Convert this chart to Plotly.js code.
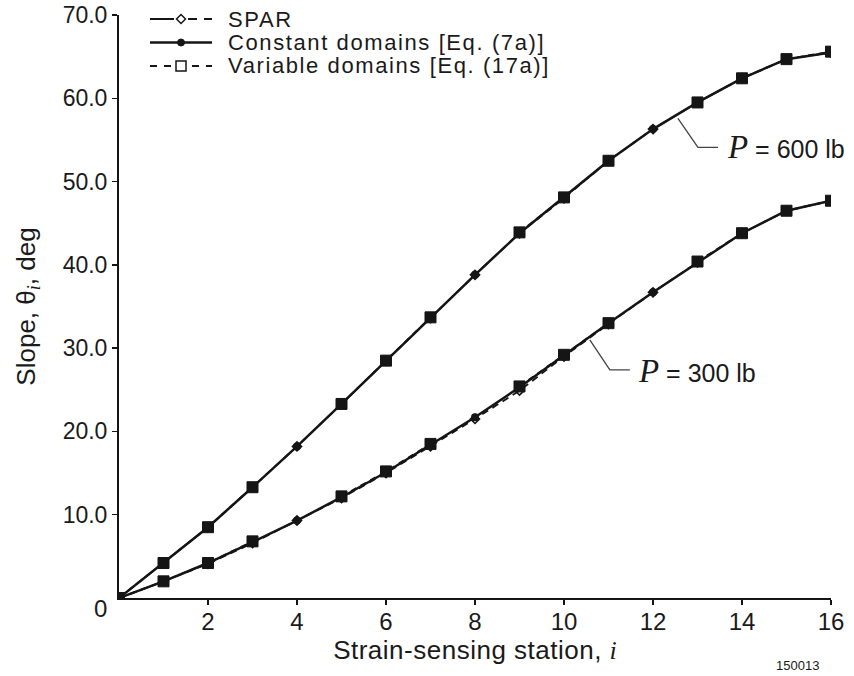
<!DOCTYPE html>
<html>
<head>
<meta charset="utf-8">
<script src="https://cdn.plot.ly/plotly-3.0.1.min.js"></script>
<style>html,body{margin:0;padding:0;background:#fff;}#chart{width:854px;height:676px;}</style>
</head>
<body>
<div id="chart"></div>
<script>
// ---- data ----
const stations = [0,1,2,3,4,5,6,7,8,9,10,11,12,13,14,15,16];
const spar600     = [0, 4.2, 8.5, 13.3, 18.2, 23.3, 28.5, 33.6, 38.8, 43.8, 48.0, 52.5, 56.3, 59.5, 62.4, 64.7, 65.5];
const constant600 = [0, 4.2, 8.5, 13.3, 18.2, 23.3, 28.5, 33.6, 38.8, 43.8, 48.1, 52.5, 56.3, 59.5, 62.4, 64.7, 65.5];
const variable600 = [0, 4.2, 8.5, 13.3, null, 23.3, 28.5, 33.7, null, 43.9, 48.1, 52.5, null, 59.5, 62.4, 64.7, 65.6];
const spar300     = [0, 2.0, 4.1, 6.6, 9.3, 12.0, 15.0, 18.2, 21.5, 24.9, 29.0, 32.9, 36.7, 40.3, 43.8, 46.5, 47.7];
const constant300 = [0, 2.0, 4.2, 6.7, 9.3, 12.1, 15.1, 18.4, 21.7, 25.3, 29.2, 33.0, 36.7, 40.3, 43.8, 46.5, 47.7];
const variable300 = [0, 2.0, 4.2, 6.8, null, 12.2, 15.2, 18.5, null, 25.4, 29.2, 33.0, null, 40.4, 43.8, 46.5, 47.7];
const yTickVals = [10, 20, 30, 40, 50, 60, 70];
const yTickText = ['10.0','20.0','30.0','40.0','50.0','60.0','70.0'];
const xTickVals = [2, 4, 6, 8, 10, 12, 14, 16];
const legendNames = ['SPAR', 'Constant domains [Eq. (7a)]', 'Variable domains [Eq. (17a)]'];

// ---- layout helpers (pixel -> paper) ----
const L = 119, R = 23, T = 15, B = 78, W = 854, H = 676;
const PW = W - L - R, PH = H - T - B;
const X = px => (px - L) / PW;
const Y = py => (H - B - py) / PH;

const FONT = 'Liberation Sans, Arial, Helvetica, sans-serif';
const SERIF = 'Liberation Serif, Times New Roman, serif';
const INK = '#151515';
const TXT = '#1a1a1a';

function sparTrace(y) {
  return {x: stations, y: y, mode: 'lines+markers', showlegend: false,
    line: {color: INK, width: 1.8, dash: '7px,5px'},
    marker: {symbol: 'diamond-open', size: 7, color: INK, line: {width: 1.6, color: INK}}};
}
function constTrace(y) {
  return {x: stations, y: y, mode: 'lines+markers', showlegend: false,
    line: {color: INK, width: 2.5},
    marker: {symbol: 'circle', size: 8, color: INK}};
}
function varTrace(y) {
  return {x: stations, y: y, mode: 'lines+markers', showlegend: false, connectgaps: false,
    line: {color: INK, width: 1.8, dash: '6px,5px'},
    marker: {symbol: 'square', size: 11, color: INK, line: {width: 1, color: INK}}};
}

const traces = [
  sparTrace(spar600), constTrace(constant600), varTrace(variable600),
  sparTrace(spar300), constTrace(constant300), varTrace(variable300)
];

// ---- custom legend (shapes + text) ----
const legRows = [19, 42.5, 66];
const lx0 = 150, lx1 = 212, lmid = 181, ltext = 227;
const shapes = [];
const annotations = [];
// row 1: SPAR, dashed with open diamond
shapes.push({type: 'line', xref: 'paper', yref: 'paper', x0: X(lx0), x1: X(lmid - 7), y0: Y(legRows[0]), y1: Y(legRows[0]), line: {color: INK, width: 2}});
shapes.push({type: 'line', xref: 'paper', yref: 'paper', x0: X(lmid + 7), x1: X(lx1), y0: Y(legRows[0]), y1: Y(legRows[0]), line: {color: INK, width: 2, dash: '9px,7px'}});
shapes.push({type: 'path', xref: 'paper', yref: 'paper',
  path: 'M' + X(lmid - 4.5) + ',' + Y(legRows[0]) + ' L' + X(lmid) + ',' + Y(legRows[0] - 4.5) + ' L' + X(lmid + 4.5) + ',' + Y(legRows[0]) + ' L' + X(lmid) + ',' + Y(legRows[0] + 4.5) + ' Z',
  fillcolor: '#fff', line: {color: INK, width: 1.5}});
// row 2: constant, solid with filled circle
shapes.push({type: 'line', xref: 'paper', yref: 'paper', x0: X(lx0), x1: X(lx1), y0: Y(legRows[1]), y1: Y(legRows[1]), line: {color: INK, width: 2.4}});
shapes.push({type: 'circle', xref: 'paper', yref: 'paper', x0: X(lmid - 3.5), x1: X(lmid + 3.5), y0: Y(legRows[1] + 3.5), y1: Y(legRows[1] - 3.5), fillcolor: INK, line: {color: INK, width: 1}});
// row 3: variable, dashed with open square
shapes.push({type: 'line', xref: 'paper', yref: 'paper', x0: X(lx0), x1: X(lx1), y0: Y(legRows[2]), y1: Y(legRows[2]), line: {color: INK, width: 2, dash: '7px,7px'}});
shapes.push({type: 'rect', xref: 'paper', yref: 'paper', x0: X(lmid - 5), x1: X(lmid + 5), y0: Y(legRows[2] + 5), y1: Y(legRows[2] - 5), fillcolor: '#fff', line: {color: INK, width: 1.5}});
legendNames.forEach((n, i) => {
  annotations.push({xref: 'paper', yref: 'paper', x: X(ltext), y: Y(legRows[i]), xanchor: 'left', yanchor: 'middle',
    text: '<span style="letter-spacing:1.6px">' + n + '</span>', showarrow: false, borderpad: 0,
    font: {family: FONT, size: 22, color: TXT}});
});

// ---- leader lines for load labels ----
shapes.push({type: 'path', xref: 'x', yref: 'y', path: 'M12.56,57.6 L13.01,54.1 L13.46,54.1', line: {color: '#444', width: 1.3}});
shapes.push({type: 'path', xref: 'x', yref: 'y', path: 'M10.58,31.0 L11.03,27.4 L11.48,27.4', line: {color: '#444', width: 1.3}});
annotations.push({xref: 'x', yref: 'y', x: 13.62, y: 54.1, xanchor: 'left', yanchor: 'middle', showarrow: false,
  text: '<span style="font-family:' + SERIF + ';font-style:italic;font-size:33px">P</span> = 600 lb', font: {family: FONT, size: 25, color: TXT}});
annotations.push({xref: 'x', yref: 'y', x: 11.62, y: 27.3, xanchor: 'left', yanchor: 'middle', showarrow: false,
  text: '<span style="font-family:' + SERIF + ';font-style:italic;font-size:33px">P</span> = 300 lb', font: {family: FONT, size: 25, color: TXT}});

// origin "0" label and figure id
annotations.push({xref: 'paper', yref: 'paper', x: X(100), y: Y(608), xanchor: 'center', yanchor: 'middle', showarrow: false,
  text: '0', font: {family: FONT, size: 24, color: TXT}});
annotations.push({xref: 'paper', yref: 'paper', x: X(797), y: Y(665), xanchor: 'center', yanchor: 'middle', showarrow: false,
  text: '150013', font: {family: FONT, size: 13, color: TXT}});

const layout = {
  width: W, height: H,
  margin: {l: L, r: R, t: T, b: B, pad: 0},
  paper_bgcolor: '#fff', plot_bgcolor: '#fff',
  showlegend: false,
  font: {family: FONT, color: TXT},
  xaxis: {
    range: [0, 16], tickvals: xTickVals, ticktext: xTickVals.map(String),
    showgrid: false, zeroline: false, showline: true, linecolor: INK, linewidth: 2,
    ticks: 'outside', ticklen: 5, tickwidth: 1.5, tickcolor: INK,
    ticklabelstandoff: -4,
    tickfont: {family: FONT, size: 24, color: TXT},
    title: {text: '<span style="letter-spacing:0.5px">Strain-sensing station, </span><span style="font-family:' + SERIF + ';font-style:italic">i</span>', font: {family: FONT, size: 26, color: TXT}, standoff: 3}
  },
  yaxis: {
    range: [0, 70], tickvals: yTickVals, ticktext: yTickText,
    showgrid: false, zeroline: false, showline: true, linecolor: INK, linewidth: 2,
    ticks: 'outside', ticklen: 5, tickwidth: 1.5, tickcolor: INK,
    tickfont: {family: FONT, size: 23, color: TXT},
    title: {text: 'Slope, θ<sub><span style="font-family:' + SERIF + ';font-style:italic">i</span></sub>, deg', font: {family: FONT, size: 26, color: TXT}, standoff: 20}
  },
  shapes: shapes,
  annotations: annotations
};

Plotly.newPlot('chart', traces, layout, {displayModeBar: false, staticPlot: true});
</script>
</body>
</html>
